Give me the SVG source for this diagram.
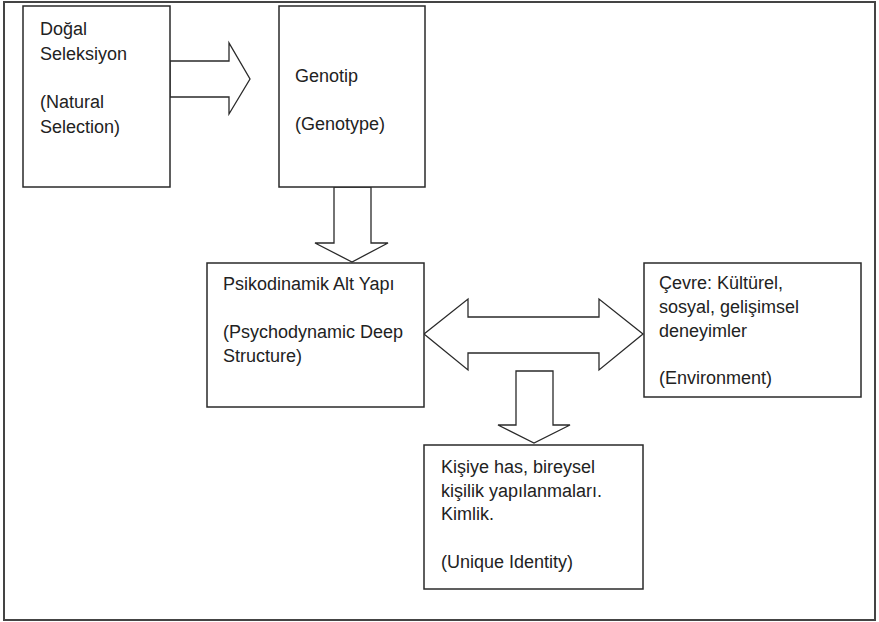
<svg xmlns="http://www.w3.org/2000/svg" width="879" height="622" viewBox="0 0 879 622">
<style>
.box{fill:#fff;stroke:#2a2a2a;stroke-width:1.5}
.arr{fill:#fff;stroke:#2a2a2a;stroke-width:1.3;stroke-linejoin:miter}
text{font-family:"Liberation Sans",Arial,sans-serif;font-size:18px;fill:#222}
</style>
<rect x="0" y="0" width="879" height="622" fill="#fff"/>
<rect x="4" y="2" width="871" height="618" fill="none" stroke="#444" stroke-width="2"/>
<g id="connectors">
<path class="arr" d="M170,61 H229 V43 L250,79 L229,114 V97 H170 Z"/>
<path class="arr" d="M334,187 V243 H315 L352,262 L388,243 H371 V187 Z"/>
<path class="arr" d="M424,334 L468,299 V317 H599 V299 L643,334 L599,370 V353 H468 V370 Z"/>
<path class="arr" d="M516,371 V425 H498 L534,443 L570,425 H553 V371 Z"/>
</g>
<g id="dogal">
<rect class="box" x="23" y="6" width="147" height="181"/>
<text x="40" y="35">Doğal</text>
<text x="40" y="60">Seleksiyon</text>
<text x="40" y="108">(Natural</text>
<text x="40" y="133">Selection)</text>
</g>
<g id="genotip">
<rect class="box" x="279" y="6" width="146" height="181"/>
<text x="295" y="82">Genotip</text>
<text x="295" y="130">(Genotype)</text>
</g>
<g id="psiko">
<rect class="box" x="207" y="263" width="217" height="144"/>
<text x="223" y="290">Psikodinamik Alt Yapı</text>
<text x="223" y="338">(Psychodynamic Deep</text>
<text x="223" y="362">Structure)</text>
</g>
<g id="cevre">
<rect class="box" x="644" y="263" width="217" height="134"/>
<text x="659" y="289">Çevre: Kültürel,</text>
<text x="659" y="313">sosyal, gelişimsel</text>
<text x="659" y="337">deneyimler</text>
<text x="659" y="384">(Environment)</text>
</g>
<g id="kimlik">
<rect class="box" x="424" y="445" width="219" height="144"/>
<text x="441" y="473">Kişiye has, bireysel</text>
<text x="441" y="497">kişilik yapılanmaları.</text>
<text x="441" y="520">Kimlik.</text>
<text x="441" y="568">(Unique Identity)</text>
</g>
</svg>
